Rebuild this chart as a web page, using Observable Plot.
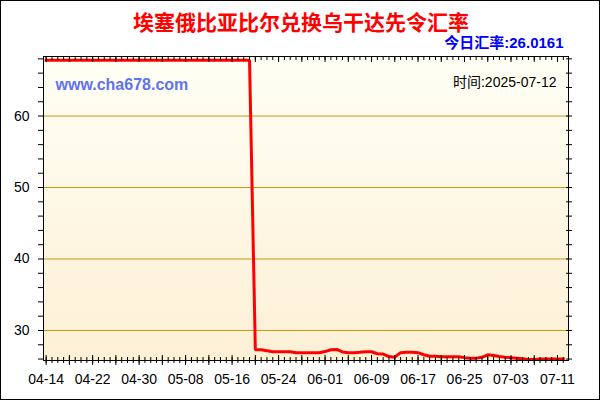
<!DOCTYPE html>
<html><head><meta charset="utf-8">
<script src="https://cdn.jsdelivr.net/npm/d3@7"></script>
<script src="https://cdn.jsdelivr.net/npm/@observablehq/plot@0.6"></script>
<style>
html,body{margin:0;padding:0;background:#fff;}
#chart svg{display:block;outline:1px solid #000;outline-offset:-1px;}
</style></head><body><div id="chart"></div>
<script>
const title = "埃塞俄比亚比尔兑换乌干达先令汇率";
const rateLabel = "今日汇率:26.0161";
const siteLabel = "www.cha678.com";
const timeLabel = "时间:2025-07-12";
const startDate = "2025-04-14";
const endDate = "2025-07-12";
const rates = [
  67.82,67.82,67.82,67.82,67.82,67.82,67.82,67.82,67.82,67.82,
  67.82,67.82,67.82,67.82,67.82,67.82,67.82,67.82,67.82,67.82,
  67.82,67.82,67.82,67.82,67.82,67.82,67.82,67.82,67.82,67.82,
  67.82,67.82,67.82,67.82,67.82,67.82,
  27.30,27.30,27.16,27.02,27.02,27.02,27.02,26.89,26.89,26.89,
  26.89,26.89,27.05,27.30,27.35,27.00,26.89,26.89,26.95,27.03,
  27.03,26.75,26.70,26.35,26.27,26.90,26.97,26.97,26.89,26.60,
  26.40,26.40,26.33,26.33,26.33,26.33,26.20,26.13,26.13,26.25,
  26.60,26.50,26.35,26.27,26.20,26.13,26.05,25.95,25.95,26.00,
  26.00,26.00,26.00,26.0161
];
const xLabelTicks = ["2025-04-14","2025-04-22","2025-04-30","2025-05-08","2025-05-16","2025-05-24",
  "2025-06-01","2025-06-09","2025-06-17","2025-06-25","2025-07-03","2025-07-11"];
const yLabelTicks = [30, 40, 50, 60];
const yMinorTicks = [26,28,30,32,34,36,38,40,42,44,46,48,50,52,54,56,58,60,62,64,66,68];
const yDomain = [25.8, 68.33];
const xDomain = ["2025-04-13T13:00:00Z", "2025-07-12T21:30:00Z"];

const start = new Date(startDate + "T00:00:00Z");
const data = rates.map((r, i) => ({date: d3.utcDay.offset(start, i), rate: r}));
const dayTicks = d3.utcDay.range(start, d3.utcDay.offset(new Date(endDate + "T00:00:00Z"), 1));
const majorDayTicks = dayTicks.filter((d, i) => i % 4 === 0);
const labelDates = xLabelTicks.map(s => new Date(s + "T00:00:00Z"));

const gradient = () => {
  const defs = d3.create("svg:defs");
  const g = defs.append("linearGradient").attr("id", "bggrad").attr("x1", 0).attr("y1", 0).attr("x2", 0).attr("y2", 1);
  g.append("stop").attr("offset", "0%").attr("stop-color", "#fffff5");
  g.append("stop").attr("offset", "100%").attr("stop-color", "#fdf0d5");
  return defs.node();
};

const font = "Liberation Sans, Arial, Noto Sans CJK SC, sans-serif";
const plot = Plot.plot({
  width: 600, height: 400,
  marginLeft: 43, marginRight: 32, marginTop: 56, marginBottom: 40,
  style: {fontFamily: font, background: "#fff", color: "#000"},
  x: {type: "utc", domain: xDomain.map(s => new Date(s))},
  y: {domain: yDomain},
  marks: [
    gradient,
    Plot.frame({fill: "url(#bggrad)", stroke: null}),
    Plot.gridY(yLabelTicks, {stroke: "#c8960f", strokeOpacity: 1, strokeWidth: 1}),
    Plot.line(data, {x: "date", y: "rate", stroke: "#ff0000", strokeWidth: 3, strokeLinejoin: "miter", strokeLinecap: "square"}),
    Plot.axisX({ticks: dayTicks, tickSize: 6, dy: -3, text: null, anchor: "bottom"}),
    Plot.axisX({ticks: majorDayTicks, tickSize: 10, dy: -5, text: null, anchor: "bottom"}),
    Plot.axisX({ticks: labelDates, tickSize: 0, tickPadding: 14, tickFormat: d3.utcFormat("%m-%d"), fontSize: 14, anchor: "bottom", label: null}),
    Plot.axisX({ticks: dayTicks, tickSize: -3, text: null, anchor: "top", label: null}),
    Plot.axisX({ticks: majorDayTicks, tickSize: -5, text: null, anchor: "top", label: null}),
    Plot.axisY({ticks: yMinorTicks, tickSize: 5, text: null, anchor: "left", label: null}),
    Plot.axisY({ticks: yLabelTicks, tickSize: 0, tickPadding: 14, fontSize: 14, anchor: "left", label: null}),
    Plot.axisY({ticks: yMinorTicks, tickSize: 6, dx: -3, text: null, anchor: "right", label: null}),
    Plot.frame({stroke: "#000", strokeWidth: 1}),
    Plot.text([title], {frameAnchor: "top", dx: -5, dy: -33, text: d => d, fill: "#ff0000", fontSize: 21, fontWeight: "bold", fontFamily: "Noto Sans CJK SC, sans-serif", lineAnchor: "middle"}),
    Plot.text([rateLabel], {frameAnchor: "top-right", dx: -5, dy: -13.5, text: d => d, textAnchor: "end", fill: "#0000ff", fontSize: 15, fontWeight: "bold", fontFamily: font, lineAnchor: "middle"}),
    Plot.text([siteLabel], {frameAnchor: "top-left", dx: 12, dy: 28, text: d => d, textAnchor: "start", fill: "#5f73f0", fontSize: 16, fontWeight: "bold", fontFamily: font, lineAnchor: "middle"}),
    Plot.text([timeLabel], {frameAnchor: "top-right", dx: -12, dy: 26, text: d => d, textAnchor: "end", fill: "#000", fontSize: 14, fontFamily: font, lineAnchor: "middle"})
  ]
});
document.getElementById("chart").append(plot);
</script></body></html>
